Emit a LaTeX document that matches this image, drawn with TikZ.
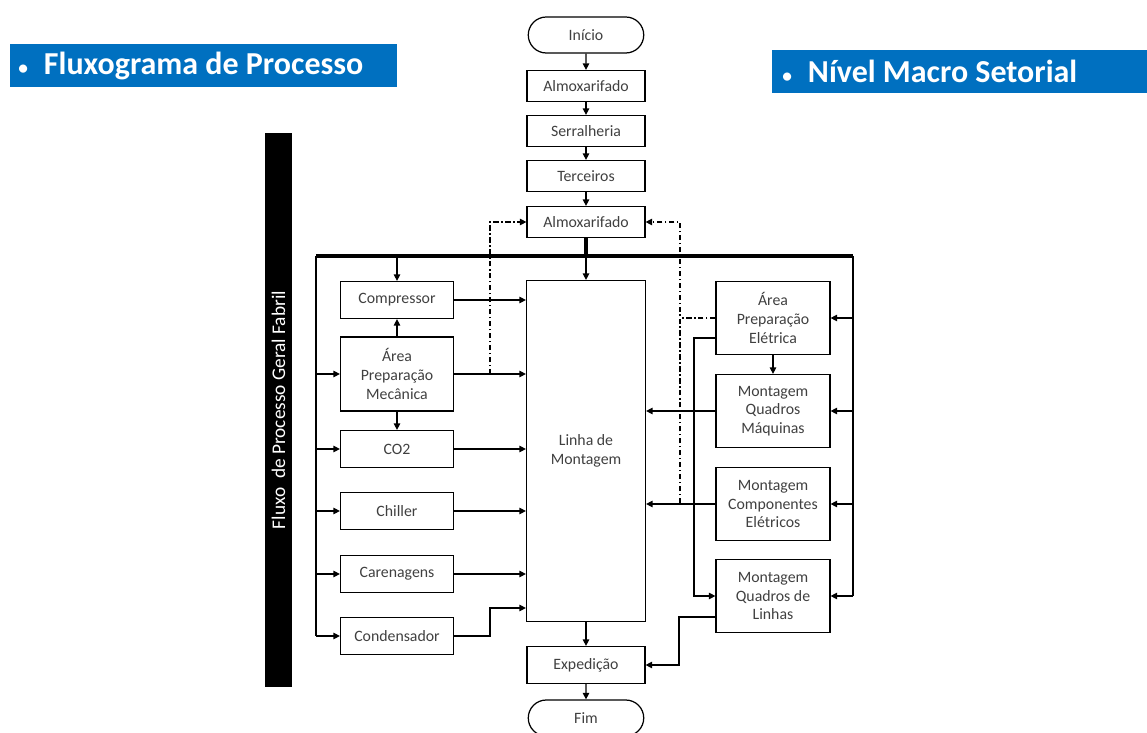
\documentclass[tikz,border=0pt]{standalone}
\usepackage{fontspec}
\setmainfont{Carlito}
\usetikzlibrary{arrows.meta, positioning, shapes.misc}
\definecolor{titleblue}{RGB}{0,112,192}
\definecolor{boxtext}{RGB}{64,64,64}

\begin{document}
\begin{tikzpicture}[
  x=0.02cm, y=-0.02cm,
  box/.style={draw, line width=0.7pt, font=\fontsize{9}{10.6}\selectfont, text=boxtext, align=center, inner sep=1pt},
  term/.style={box, rounded rectangle, minimum width=2.38cm, minimum height=0.72cm},
  mid/.style={box, minimum width=2.36cm, minimum height=0.62cm},
  lbox/.style={box, minimum width=2.26cm, minimum height=0.74cm},
  rbox/.style={box, minimum width=2.28cm, minimum height=1.46cm},
  arrow/.style={-{Triangle[length=1.3mm, width=1.3mm]}, line width=0.7pt},
  link/.style={line width=0.7pt},
  bus/.style={line width=1.8pt},
  ddline/.style={line width=0.7pt, dash pattern=on 3pt off 1.5pt on 0.8pt off 1.5pt},
  dd/.style={arrow, ddline},
  title/.style={fill=titleblue, text=white, font=\fontsize{18.2}{20}\selectfont\bfseries, anchor=west, minimum height=0.86cm, align=flush left}
]
\useasboundingbox (0,0) rectangle (1147,733);

% titles
\node[title, inner xsep=0.16cm, text width=7.42cm] (t1) at (10,65.5) {{\fontsize{11}{11}\selectfont\textbullet}\hspace{0.32cm}Fluxograma de Processo};
\node[title, inner xsep=0.2cm, text width=7.1cm] (t2) at (772,71.5) {{\fontsize{11}{11}\selectfont\textbullet}\hspace{0.32cm}Nível Macro Setorial};

% side bar
\node[fill=black, text=white, rotate=90, minimum width=11.1cm, minimum height=0.54cm, inner sep=0pt, font=\fontsize{11}{12}\selectfont] (side) at (278.5,410) {Fluxo\ \ de Processo Geral Fabril};

% main column
\node[term] (start) at (586,35) {Início};
\node[mid] (alm1) at (586,86) {Almoxarifado};
\node[mid] (serr) at (586,131) {Serralheria};
\node[mid] (terc) at (586,176) {Terceiros};
\node[mid] (alm2) at (586,222) {Almoxarifado};
\node[box, minimum width=2.38cm, minimum height=6.82cm] (linha) at (586,451) {Linha de\\Montagem};
\node[mid, minimum height=0.74cm] (exped) at (586,665) {Expedição};
\node[term] (fim) at (586,718) {Fim};

% left side
\node[lbox] (comp) at (397,300) {Compressor};
\node[lbox, minimum height=1.48cm] (apm) at (397,374) {Área\\Preparação\\Mecânica};
\node[lbox] (co2) at (397,449) {CO2};
\node[lbox] (chil) at (397,511) {Chiller};
\node[lbox] (care) at (397,574) {Carenagens};
\node[lbox] (cond) at (397,636) {Condensador};

% right side
\node[rbox] (ape) at (773,318) {Área\\Preparação\\Elétrica};
\node[rbox] (mqm) at (773,411) {Montagem\\Quadros\\Máquinas};
\node[rbox] (mce) at (773,504) {Montagem\\Componentes\\Elétricos};
\node[rbox] (mql) at (773,596) {Montagem\\Quadros de\\Linhas};

\coordinate (busL) at (316,256);
\coordinate (busR) at (853,256);

% main flow
\draw[arrow] (start) -- (alm1);
\draw[arrow] (alm1) -- (serr);
\draw[arrow] (serr) -- (terc);
\draw[arrow] (terc) -- (alm2);
\draw[bus] (alm2) -- (alm2 |- busL);
\draw[arrow] (alm2 |- busL) -- (linha);
\draw[arrow] (linha) -- (exped);
\draw[arrow] (exped) -- (fim);

% distribution bus
\draw[bus] (busL) -- (busR);
\draw[link] (busL) -- (busL |- cond);
\draw[link] (busR) -- (busR |- mql);
\foreach \n in {apm, co2, chil, care, cond}
  \draw[arrow] (busL |- \n) -- (\n);
\foreach \n in {ape, mqm, mce, mql}
  \draw[arrow] (busR |- \n) -- (\n);
\draw[arrow] (comp.north |- busL) -- (comp);

% left side to assembly line
\draw[arrow] (apm) -- (comp);
\draw[arrow] (apm) -- (co2);
\foreach \n in {comp, apm, co2, chil, care}
  \draw[arrow] (\n) -- (\n -| linha.west);
\draw[arrow] (cond.east) -| (490,608) -- (linha.west |- 0,608);

% right side to assembly line
\draw[arrow] (ape) -- (mqm);
\draw[arrow] (mqm) -- (mqm -| linha.east);
\draw[arrow] (mce) -- (mce -| linha.east);
\draw[arrow] (ape.west |- 0,338) -| (694,596) -- (mql);
\draw[arrow] (mql.west |- 0,617) -| (679,665) -- (exped);

% return to warehouse
\draw[dd] (490,374) |- (alm2);
\draw[dd] (680,503) |- (alm2);
\draw[ddline] (ape) -- (680,318);
\end{tikzpicture}
\end{document}
